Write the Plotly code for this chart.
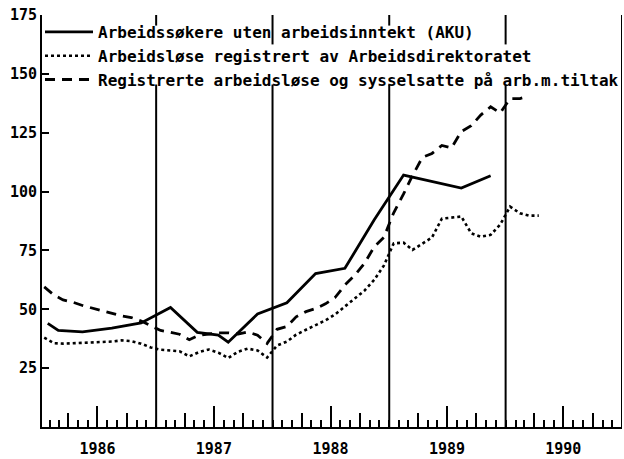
import plotly.graph_objects as go

# ---------------- data ----------------
years = [1986, 1987, 1988, 1989, 1990]
year_labels = ["1986", "1987", "1988", "1989", "1990"]
y_ticks = [25, 50, 75, 100, 125, 150, 175]

series_names = [
    "Arbeidssøkere uten arbeidsinntekt (AKU)",
    "Arbeidsløse registrert av Arbeidsdirektoratet",
    "Registrerte arbeidsløse og sysselsatte på arb.m.tiltak",
]

# AKU (quarterly survey, plotted at mid-quarter)
aku_dates = ["1986-01-26", "1986-02-28", "1986-05-15", "1986-08-15", "1986-11-15",
             "1987-02-15", "1987-05-10", "1987-07-15", "1987-08-15", "1987-11-15",
             "1988-02-15", "1988-05-15", "1988-08-15", "1988-11-15",
             "1989-02-15", "1989-05-15", "1989-08-15", "1989-11-15"]
aku_values = [44.0, 41.0, 40.4, 42.0, 44.2,
              50.8, 40.2, 39.0, 36.0, 48.0,
              52.8, 65.2, 67.4, 88.0,
              107.0, 104.2, 101.5, 106.7]

# Registered unemployed, monthly from Jan 1986
reg_values = [38.0, 35.6, 35.4, 35.6, 35.9, 36.1, 36.0, 36.3, 36.8, 36.5, 35.4, 33.8,
              32.8, 32.6, 32.2, 30.0, 31.8, 32.9, 31.6, 29.3, 32.0, 33.3, 32.5, 29.5,
              34.6, 36.3, 39.2, 41.3, 43.2, 45.3, 47.8, 51.2, 54.5, 57.9, 62.5, 68.5,
              78.0, 78.3, 75.2, 77.8, 80.5, 88.5, 88.8, 89.4, 82.3, 80.8, 81.6, 86.0,
              93.6, 90.8, 89.8, 89.8]

# Registered unemployed + persons on labour market measures, monthly from Jan 1986
tilt_values = [59.5, 56.0, 54.0, 53.0, 51.6, 50.5, 49.5, 48.4, 47.2, 46.5, 45.0, 43.0,
               41.0, 40.2, 39.4, 37.1, 39.0, 39.5, 40.0, 40.0, 39.5, 40.4, 39.0, 35.5,
               41.5, 42.7, 46.8, 49.0, 50.3, 52.3, 55.0, 60.3, 64.5, 69.5, 76.5, 80.5,
               91.0, 99.0, 106.8, 114.5, 116.2, 119.6, 118.5, 125.5, 128.0, 132.5, 136.0, 133.4,
               139.5, 139.5, 140.5]


def month_dates(n):
    return [f"{1986 + m // 12}-{m % 12 + 1:02d}-15" for m in range(n)]


reg_dates = month_dates(len(reg_values))
tilt_dates = month_dates(len(tilt_values))

# ---------------- figure ----------------
FONT = "DejaVu Sans Mono"
fig = go.Figure()

fig.add_trace(go.Scatter(x=aku_dates, y=aku_values, mode="lines", name=series_names[0],
                         line=dict(color="black", width=2.8)))
fig.add_trace(go.Scatter(x=reg_dates, y=reg_values, mode="lines", name=series_names[1],
                         line=dict(color="black", width=2.6, dash="dot")))
fig.add_trace(go.Scatter(x=tilt_dates, y=tilt_values, mode="lines", name=series_names[2],
                         line=dict(color="black", width=2.8, dash="10px,7px")))

# helper traces for the medium (quarter) and short (month) tick axes
quarter_ticks = []
for yr in years:
    quarter_ticks += [f"{yr}-04-01", f"{yr}-10-01"]
fig.add_trace(go.Scatter(x=quarter_ticks, y=[None] * len(quarter_ticks), xaxis="x2",
                         showlegend=False, hoverinfo="skip", mode="lines"))
fig.add_trace(go.Scatter(x=quarter_ticks, y=[None] * len(quarter_ticks), xaxis="x3",
                         showlegend=False, hoverinfo="skip", mode="lines"))

# vertical year separators (split where the legend text sits)
shapes = []
for yr in years[1:] + [1991]:
    xd = f"{yr}-01-01"
    if yr == 1991:
        segs = [(0, 175)]
    elif yr in (1987, 1989):
        segs = [(0, 145.5), (170.5, 175)]
    else:
        segs = [(0, 145.5), (162.5, 175)]
    for a, b in segs:
        shapes.append(dict(type="line", xref="x", yref="y", x0=xd, x1=xd, y0=a, y1=b,
                           line=dict(color="black", width=2), layer="below"))

x_range = ["1986-01-08", "1991-01-01"]

fig.update_layout(
    width=624, height=459,
    margin=dict(l=42, r=2, t=15, b=32),
    paper_bgcolor="white", plot_bgcolor="white",
    font=dict(family=FONT, color="black", size=15, weight="bold"),
    showlegend=True,
    legend=dict(x=0.003, y=1.0, xanchor="left", yanchor="top",
                bgcolor="rgba(0,0,0,0)", font=dict(family=FONT, size=16, weight="bold"),
                itemwidth=48, tracegroupgap=0),
    shapes=shapes,
    xaxis=dict(type="date", range=x_range, automargin=False,
               tickvals=[f"{y}-07-01" for y in years], ticktext=year_labels,
               ticks="inside", ticklen=21, tickwidth=2, tickcolor="black",
               ticklabelstandoff=7,
               showline=True, linewidth=2, linecolor="black",
               showgrid=False, zeroline=False, ticklabeloverflow="allow",
               tickfont=dict(family=FONT, size=15, weight="bold")),
    xaxis2=dict(type="date", range=x_range, overlaying="x", anchor="y", side="bottom",
                tickvals=quarter_ticks, ticks="inside", ticklen=14, tickwidth=1.5,
                tickcolor="black", showticklabels=False, showgrid=False, zeroline=False,
                showline=False, automargin=False),
    xaxis3=dict(type="date", range=x_range, overlaying="x", anchor="y", side="bottom",
                tickmode="linear", tick0="1986-02-01", dtick="M1",
                ticks="inside", ticklen=7, tickwidth=1.5,
                tickcolor="black", showticklabels=False, showgrid=False, zeroline=False,
                showline=False, automargin=False),
    yaxis=dict(range=[0, 175], tickvals=y_ticks, ticks="inside", ticklen=7, tickwidth=2,
               tickcolor="black", showline=True, linewidth=2, linecolor="black",
               showgrid=False, zeroline=False, automargin=False,
               ticklabeloverflow="allow",
               tickfont=dict(family=FONT, size=15, weight="bold")),
)

# remove the browser's default 8px body margin so the figure sits at (0, 0)
fig.write_html("out.html",
               config={"displayModeBar": False},
               post_script="document.body.style.margin='0';document.body.style.overflow='hidden';")
